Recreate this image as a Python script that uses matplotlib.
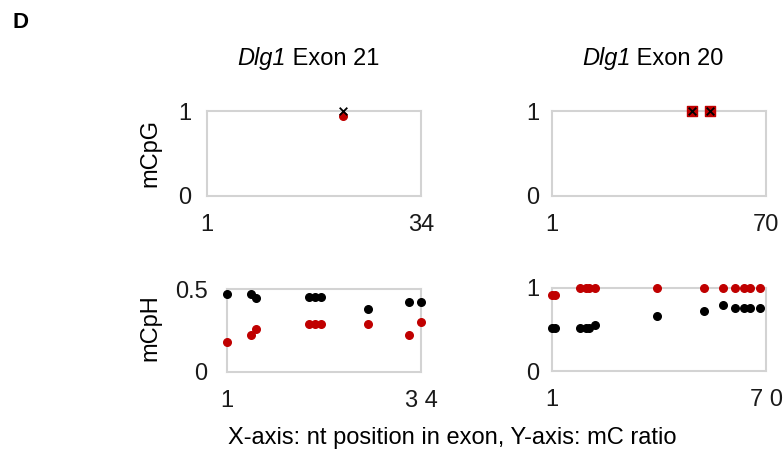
import matplotlib.pyplot as plt

plt.rcParams['font.family'] = ['Liberation Sans', 'DejaVu Sans']

RED = '#C00000'
GRID = '#D3D3D3'
FS = 17

# Dlg1 exon 21 (34 nt)
e21_cpg_x = [22]
e21_cpg_black = [1.0]
e21_cpg_red = [0.94]
e21_cph_x = [1, 5, 6, 15, 16, 17, 25, 32, 34]
e21_cph_black = [0.47, 0.47, 0.445, 0.45, 0.45, 0.45, 0.38, 0.42, 0.42]
e21_cph_red = [0.18, 0.22, 0.26, 0.29, 0.29, 0.29, 0.29, 0.22, 0.30]

# Dlg1 exon 20 (70 nt)
e20_cpg_x = [46, 52]
e20_cpg_black = [1.0, 1.0]
e20_cpg_red = [1.0, 1.0]
e20_cph_x = [1, 2, 10, 12, 13, 15, 35, 50, 56, 60, 63, 65, 68]
e20_cph_black = [0.52, 0.52, 0.52, 0.52, 0.52, 0.55, 0.66, 0.72, 0.79, 0.76, 0.76, 0.76, 0.76]
e20_cph_red = [0.92, 0.92, 1.0, 1.0, 1.0, 1.0, 1.0, 1.0, 1.0, 1.0, 1.0, 1.0, 1.0]

W, H = 783, 455
fig = plt.figure(figsize=(W / 100, H / 100), dpi=100)


def box(x0, x1, y0, y1):
    # pixel box -> figure fraction
    return [x0 / W, 1 - y1 / H, (x1 - x0) / W, (y1 - y0) / H]


def style(ax, xmax, ymax, xlabels, ylabels, ypad):
    ax.set_xlim(1, xmax)
    ax.set_ylim(0, ymax)
    ax.set_xticks([1, xmax])
    ax.set_xticklabels(xlabels)
    ax.set_yticks([0, ymax])
    ax.set_yticklabels(ylabels)
    ax.tick_params(length=0, labelsize=FS, colors='#1a1a1a')
    ax.tick_params(axis='x', pad=13)
    ax.tick_params(axis='y', pad=ypad)
    for s in ax.spines.values():
        s.set_color(GRID)
        s.set_linewidth(1.5)


ax1 = fig.add_axes(box(207, 421, 111, 196))
ax2 = fig.add_axes(box(552, 766, 111, 196))
ax3 = fig.add_axes(box(227, 421, 289, 372))
ax4 = fig.add_axes(box(552, 766, 288, 371))

ax1.scatter(e21_cpg_x, e21_cpg_red, s=30, color=RED, clip_on=False, zorder=3)
ax1.scatter(e21_cpg_x, e21_cpg_black, s=30, marker='x', color='black', linewidths=1.3, clip_on=False, zorder=4)
ax2.scatter(e20_cpg_x, e20_cpg_red, s=42, marker='s', color=RED, clip_on=False, zorder=3)
ax2.scatter(e20_cpg_x, e20_cpg_black, s=30, marker='x', color='black', linewidths=1.3, clip_on=False, zorder=4)

ax3.scatter(e21_cph_x, e21_cph_black, s=30, color='black', clip_on=False, zorder=3)
ax3.scatter(e21_cph_x, e21_cph_red, s=30, color=RED, clip_on=False, zorder=3)
ax4.scatter(e20_cph_x, e20_cph_black, s=30, color='black', clip_on=False, zorder=3)
ax4.scatter(e20_cph_x, e20_cph_red, s=30, color=RED, clip_on=False, zorder=3)

style(ax1, 34, 1, ['1', '34'], ['0', '1'], 11)
style(ax2, 70, 1, ['1', '70'], ['0', '1'], 9)
style(ax3, 34, 0.5, ['1', '3 4'], ['0', '0.5'], 14)
style(ax4, 70, 1, ['1', '7 0'], ['0', '1'], 9)

fig.text(150 / W, 1 - 153 / H, 'mCpG', fontsize=FS, rotation=90, ha='center', va='center')
fig.text(150 / W, 1 - 328 / H, 'mCpH', fontsize=FS, rotation=90, ha='center', va='center')

# titles: italic gene name followed by plain exon label
for x0, label in [(237, 'Exon 21'), (582, 'Exon 20')]:
    t = fig.text(x0 / W, 1 - 65 / H, 'Dlg1', style='italic', fontsize=FS,
                 ha='left', va='baseline')
    fig.add_artist(plt.Annotation(' ' + label, xy=(1, 0), xycoords=t, fontsize=FS,
                                  ha='left', va='bottom', annotation_clip=False))

fig.text(20 / W, 1 - 22 / H, 'D', fontsize=16, fontweight='bold', ha='center', va='center')
fig.text(452 / W, 1 - 438 / H, 'X-axis: nt position in exon, Y-axis: mC ratio',
         fontsize=FS, ha='center', va='center')

fig.savefig('out.png', dpi=100)
